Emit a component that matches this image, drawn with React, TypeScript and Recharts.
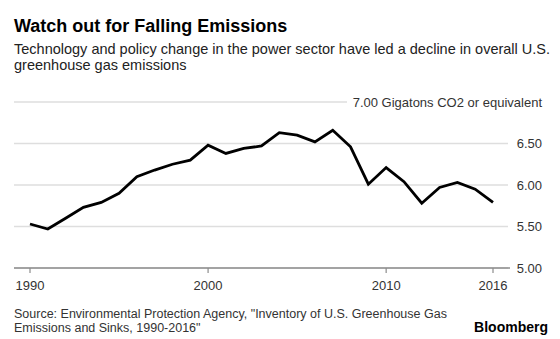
import React from 'react';
import { LineChart, Line, XAxis, YAxis, CartesianGrid } from 'recharts';

const years = [1990, 1991, 1992, 1993, 1994, 1995, 1996, 1997, 1998, 1999, 2000, 2001, 2002, 2003, 2004, 2005, 2006, 2007, 2008, 2009, 2010, 2011, 2012, 2013, 2014, 2015, 2016];
const emissions = [5.53, 5.47, 5.60, 5.73, 5.79, 5.90, 6.10, 6.18, 6.25, 6.30, 6.48, 6.38, 6.44, 6.47, 6.63, 6.60, 6.52, 6.66, 6.46, 6.01, 6.21, 6.04, 5.78, 5.97, 6.03, 5.95, 5.79];
const xTicks = [1990, 2000, 2010, 2016];
const yTicks = [5, 5.5, 6, 6.5, 7];
const topLabelSuffix = ' Gigatons CO2 or equivalent';

const title = 'Watch out for Falling Emissions';
const subtitle1 = 'Technology and policy change in the power sector have led a decline in overall U.S.';
const subtitle2 = 'greenhouse gas emissions';
const source1 = 'Source: Environmental Protection Agency, "Inventory of U.S. Greenhouse Gas';
const source2 = 'Emissions and Sinks, 1990-2016"';
const brand = 'Bloomberg';

const data = years.map((y, i) => ({ year: y, value: emissions[i] }));

const FONT = '"Liberation Sans", Arial, Helvetica, sans-serif';

const YTick = (props: any) => {
  const { x, y, payload } = props;
  const v = Number(payload.value);
  const label = v === 7 ? v.toFixed(2) + topLabelSuffix : v.toFixed(2);
  return (
    <text x={x + 24} y={y} dy="0.36em" textAnchor="end" fill="#333" fontSize={13} fontFamily={FONT}>
      {label}
    </text>
  );
};

const gridLine = (p: any) => {
  const isTop = Math.abs(p.y1 - p.y) < 0.5;
  return (
    <line
      key={p.key}
      x1={p.x1}
      y1={p.y1}
      x2={isTop ? p.x2 - 163 : p.x2 - 2}
      y2={p.y2}
      stroke="#dedede"
      strokeWidth={1.5}
    />
  );
};

export default function App() {
  return (
    <div style={{ position: 'absolute', left: 0, top: 0, width: 560, height: 339, background: '#fff', fontFamily: FONT }}>
      <LineChart width={560} height={339} data={data} margin={{ top: 102, right: 0, left: 14, bottom: 41 }}>
        <CartesianGrid vertical={false} horizontal={gridLine} />
        <XAxis
          dataKey="year"
          type="number"
          domain={[1990, 2016]}
          ticks={xTicks}
          padding={{ left: 16, right: 17 }}
          height={30}
          axisLine={{ stroke: '#8c8c8c', strokeWidth: 1.6 }}
          tickLine={{ stroke: '#8c8c8c', strokeWidth: 1.2 }}
          tickSize={5}
          tickMargin={8}
          tick={{ fill: '#333', fontSize: 13, fontFamily: FONT }}
          interval={0}
        />
        <YAxis
          orientation="right"
          type="number"
          domain={[5, 7]}
          ticks={yTicks}
          width={50}
          axisLine={false}
          tickLine={false}
          tickSize={6}
          tickMargin={2}
          tick={<YTick />}
          interval={0}
        />
        <Line
          type="linear"
          dataKey="value"
          stroke="#000"
          strokeWidth={2.8}
          dot={false}
          activeDot={false}
          isAnimationActive={false}
        />
      </LineChart>
      <svg width={560} height={339} style={{ position: 'absolute', left: 0, top: 0, pointerEvents: 'none' }}>
        <text x={14} y={32} fontSize={18} fontWeight="bold" fill="#000" fontFamily={FONT}>{title}</text>
        <text x={14} y={54} fontSize={14.5} fill="#222" fontFamily={FONT}>{subtitle1}</text>
        <text x={14} y={69.5} fontSize={14.5} fill="#222" fontFamily={FONT}>{subtitle2}</text>
        <text x={14} y={317.5} fontSize={12.5} fill="#333" fontFamily={FONT}>{source1}</text>
        <text x={14} y={331.5} fontSize={12.5} fill="#333" fontFamily={FONT}>{source2}</text>
        <text x={548} y={332} fontSize={14} fontWeight="bold" fill="#000" textAnchor="end" fontFamily={FONT}>{brand}</text>
      </svg>
    </div>
  );
}
